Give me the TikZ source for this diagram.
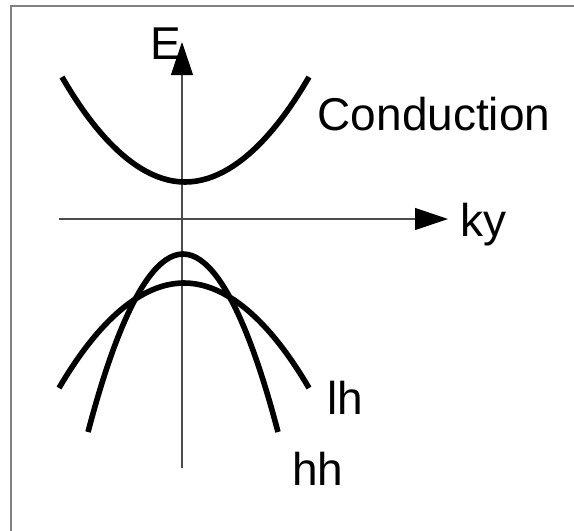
\documentclass[tikz,border=0pt]{standalone}
\usepackage{fontspec}
\setmainfont{Liberation Sans}
\usetikzlibrary{arrows.meta}

\tikzset{
  banda/.style={line width=2.8pt},
  eixo/.style={line width=0.6pt, black!70, -{Triangle[length=16.5pt,width=11pt,color=black]}},
  rotulo/.style={anchor=base, inner sep=0pt, font=\fontsize{23pt}{27pt}\selectfont}
}

\begin{document}
\begin{tikzpicture}[x=0.5pt, y=-0.5pt]
    \useasboundingbox (0,0) rectangle (574,531);

    % Moldura
    \draw[gray, line width=1pt] (11,531) -- (11,6) -- (574,6);

    % Eixos
    \coordinate (Ebase) at (182,468);
    \coordinate (Etopo) at (182,42);
    \coordinate (kesq) at (59,219);
    \coordinate (kdir) at (448,219);
    \draw[eixo] (Ebase) -- (Etopo);
    \draw[eixo] (kesq) -- (kdir);

    % Banda de conducao
    \draw[banda] (62,77) parabola bend (185,182) (309,77);

    % Buracos leves (lh)
    \draw[banda] (59,388) parabola bend (184,283) (309,388);

    % Buracos pesados (hh)
    \draw[banda] (88,432) parabola bend (183,254) (278,432);

    % Rotulos
    \node[rotulo] (lblE) at (166,59) {E};
    \node[rotulo] (lblcond) at (434,130) {Conduction};
    \node[rotulo] (lblky) at (483,236) {ky};
    \node[rotulo] (lbllh) at (345,414) {lh};
    \node[rotulo] (lblhh) at (318,485) {hh};

\end{tikzpicture}
\end{document}
